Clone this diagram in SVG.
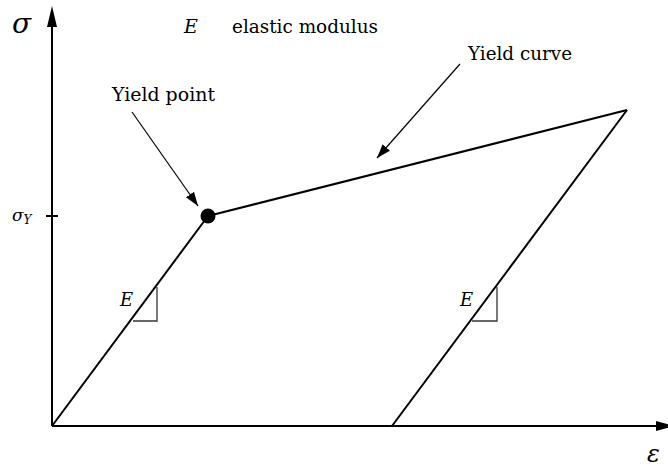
<svg xmlns="http://www.w3.org/2000/svg" width="668" height="470" viewBox="0 0 668 470">
<defs>
<style>
.i{font-style:italic}
.ax{stroke:#000;stroke-width:2;fill:none}
.cv{stroke:#000;stroke-width:2;fill:none}
.ar{stroke:#000;stroke-width:1.2;fill:none}
.tr{stroke:#333;stroke-width:1.3;fill:none}
</style>
<marker id="ah" viewBox="0 0 10 10" refX="10" refY="5" markerWidth="14" markerHeight="14" markerUnits="userSpaceOnUse" orient="auto">
<path d="M0,1.5 L10,5 L0,8.5 Z" fill="#000"/>
</marker>
</defs>
<rect width="668" height="470" fill="#fff"/>
<g id="axes">
<line class="ax" x1="52" y1="426" x2="52" y2="24"/>
<path d="M52,6 L57,27 L47,27 Z" fill="#000"/>
<line class="ax" x1="52" y1="426" x2="656" y2="426"/>
<path d="M675,426 L656,421 L656,431 Z" fill="#000"/>
<line class="ax" x1="46" y1="216" x2="58" y2="216" stroke-width="1.3"/>
<text class="i" font-family="DejaVu Serif, serif" x="12" y="33" font-size="28">σ</text>
<text class="i" font-family="DejaVu Serif, serif" x="647" y="462" font-size="24">ε</text>
<text class="i" font-family="DejaVu Serif, serif" x="12" y="221" font-size="17">σ<tspan font-size="12" dy="3">Y</tspan></text>
</g>
<g id="curve">
<line class="cv" x1="52" y1="426" x2="208" y2="216"/>
<line class="cv" x1="208" y1="216" x2="627" y2="110"/>
<line class="cv" x1="627" y1="110" x2="392" y2="426"/>
</g>
<g id="yield-point">
<circle cx="208" cy="216" r="7.5" fill="#000"/>
</g>
<g id="triangle-1">
<path class="tr" d="M133,321 L157,321 L157,287"/>
<text class="i" font-family="DejaVu Serif, serif" x="120" y="306" font-size="18">E</text>
</g>
<g id="triangle-2">
<path class="tr" d="M472,321 L497,321 L497,287"/>
<text class="i" font-family="DejaVu Serif, serif" x="460" y="306" font-size="18">E</text>
</g>
<g id="legend">
<text class="i" font-family="DejaVu Serif, serif" x="184" y="33" font-size="19">E</text>
<text font-family="DejaVu Serif, serif" x="232" y="33" font-size="18" textLength="146" lengthAdjust="spacingAndGlyphs">elastic modulus</text>
</g>
<g id="label-yield-point">
<text font-family="DejaVu Serif, serif" x="112" y="101" font-size="18" textLength="103" lengthAdjust="spacingAndGlyphs">Yield point</text>
</g>
<g id="label-yield-curve">
<text font-family="DejaVu Serif, serif" x="468" y="60" font-size="18" textLength="104" lengthAdjust="spacingAndGlyphs">Yield curve</text>
</g>
<g id="connectors">
<line class="ar" x1="132" y1="112" x2="198" y2="206" marker-end="url(#ah)"/>
<line class="ar" x1="460" y1="64" x2="377" y2="158" marker-end="url(#ah)"/>
</g>
</svg>
